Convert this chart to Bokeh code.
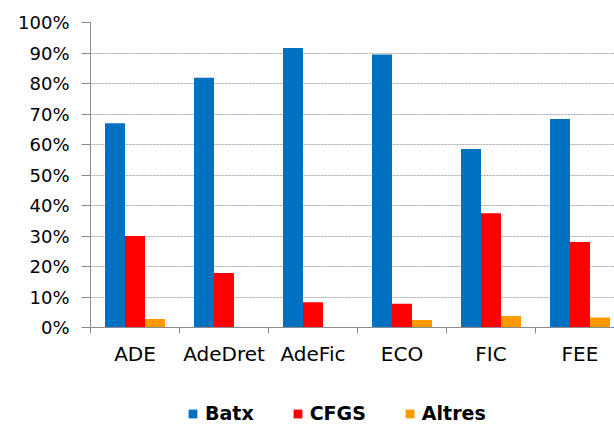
from bokeh.plotting import figure
from bokeh.layouts import column
from bokeh.models import (ColumnDataSource, Range1d, FixedTicker, NumeralTickFormatter,
                          Legend, LegendItem)
from bokeh.embed import file_html
from bokeh.resources import INLINE

categories = ["ADE", "AdeDret", "AdeFic", "ECO", "FIC", "FEE"]
series = ["Batx", "CFGS", "Altres"]
batx = [0.670, 0.819, 0.916, 0.895, 0.585, 0.684]
cfgs = [0.300, 0.179, 0.083, 0.078, 0.375, 0.280]
altres = [0.028, 0.0, 0.0, 0.025, 0.038, 0.033]
colors = ["#0070C0", "#FF0000", "#FF9900"]
y_ticks = [0.0, 0.1, 0.2, 0.3, 0.4, 0.5, 0.6, 0.7, 0.8, 0.9, 1.0]

W = 614
H_MAIN, H_LEG = 398, 27
LEFT, TOP, FRAME_BOTTOM = 90, 22, 327
CAT_PX = 89
frame_w = W - LEFT
bar_w = 20 / CAT_PX
GRAY = "#8C8C8C"

centers = [i + 0.5 for i in range(len(categories))]
bounds = [float(i) for i in range(len(categories) + 1)]

p = figure(width=W, height=H_MAIN, x_range=Range1d(0, frame_w / CAT_PX), y_range=Range1d(0, 1),
           output_backend="svg", toolbar_location=None,
           min_border_left=LEFT, min_border_right=0, min_border_top=TOP,
           min_border_bottom=H_MAIN - FRAME_BOTTOM)
p.outline_line_color = None
p.background_fill_color = "white"
p.border_fill_color = "white"

bar_renderers = []
for k, (name, vals, col) in enumerate(zip(series, [batx, cfgs, altres], colors)):
    src = ColumnDataSource(dict(x=[c + (k - 1) * bar_w for c in centers], top=vals))
    r = p.vbar(x="x", top="top", width=bar_w, bottom=0, source=src,
               fill_color=col, line_color=None)
    bar_renderers.append(r)

# axes
p.yaxis.ticker = FixedTicker(ticks=y_ticks)
p.yaxis.formatter = NumeralTickFormatter(format="0%")
p.yaxis.major_tick_out = 9
p.yaxis.major_tick_in = 0
p.yaxis.minor_tick_line_color = None
p.yaxis.axis_line_color = GRAY
p.yaxis.major_tick_line_color = GRAY
p.yaxis.major_label_text_font = "DejaVu Sans"
p.yaxis.major_label_text_font_size = "18px"
p.yaxis.major_label_text_color = "#000000"
p.yaxis.major_label_standoff = 12

p.xaxis.ticker = FixedTicker(ticks=centers, minor_ticks=bounds)
p.xaxis.major_label_overrides = {c: lab for c, lab in zip(centers, categories)}
p.xaxis.major_tick_line_color = None
p.xaxis.major_tick_out = 0
p.xaxis.minor_tick_out = 6
p.xaxis.minor_tick_in = 0
p.xaxis.minor_tick_line_color = GRAY
p.xaxis.axis_line_color = GRAY
p.xaxis.major_label_text_font = "DejaVu Sans"
p.xaxis.major_label_text_font_size = "20px"
p.xaxis.major_label_text_color = "#000000"
p.xaxis.major_label_standoff = 8

p.xgrid.visible = False
p.ygrid.ticker = FixedTicker(ticks=y_ticks)
p.ygrid.grid_line_color = "#A8A8A8"
p.ygrid.grid_line_dash = "2 1"
p.ygrid.grid_line_width = 1

# legend in its own strip below the chart (proxy renderers share the bar sources,
# but sit outside the strip's visible range)
lg = figure(width=W, height=H_LEG, x_range=Range1d(-100, -99), y_range=Range1d(-100, -99),
            output_backend="svg", toolbar_location=None,
            x_axis_location=None, y_axis_location=None,
            min_border_left=0, min_border_right=0, min_border_top=0, min_border_bottom=0)
lg.outline_line_color = None
lg.xgrid.visible = False
lg.ygrid.visible = False
items = []
for name, col, br in zip(series, colors, bar_renderers):
    r = lg.vbar(x="x", top="top", width=bar_w, bottom=0, source=br.data_source,
                fill_color=col, line_color=None)
    items.append(LegendItem(label=name, renderers=[r]))
legend = Legend(items=items, orientation="horizontal", location=(97, 1),
                glyph_width=11, glyph_height=11, label_standoff=7, spacing=38,
                label_height=11,
                label_text_font="DejaVu Sans", label_text_font_style="bold",
                label_text_font_size="19px", label_text_color="#000000",
                border_line_color=None, background_fill_alpha=0, padding=0, margin=0)
lg.add_layout(legend, "center")

layout = column(p, lg, spacing=0)
open("out.html", "w").write(file_html(layout, INLINE))
